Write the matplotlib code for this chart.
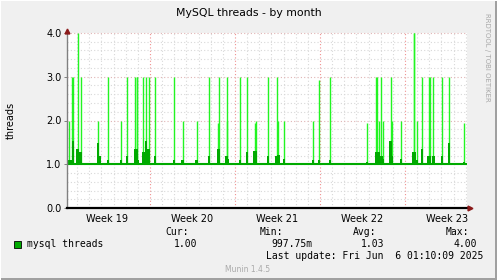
import matplotlib
matplotlib.use("Agg")
import matplotlib.pyplot as plt
import numpy as np
from matplotlib.patches import Rectangle
from matplotlib.lines import Line2D

# ---------------- data ----------------
title = "MySQL threads - by month"
ylabel = "threads"
series_name = "mysql threads"
week_labels = ["Week 19", "Week 20", "Week 21", "Week 22", "Week 23"]
week_starts = [0, 7, 14, 21, 28]          # days from start of week 19
x_range = [0.165, 33.105]                  # visible span in days
y_ticks = [0.0, 1.0, 2.0, 3.0, 4.0]
baseline = 1.0

# events over the baseline (day, peak value, averaged value)
spike_day = [0.29, 0.54, 0.66, 1.03, 1.28, 2.72, 2.84, 3.54, 4.61, 5.11,
             5.76, 5.89, 5.97, 6.46, 6.67, 6.88, 7.41, 8.98, 9.68, 10.83,
             11.86, 12.60, 12.68, 13.30, 13.38, 14.41, 14.99, 15.61, 15.69, 16.72,
             17.42, 17.58, 18.03, 20.42, 20.92, 21.82, 24.87, 25.65, 25.73, 25.82,
             26.06, 26.15, 26.81, 26.93, 27.67, 28.70, 28.78, 28.99, 29.40, 29.94,
             30.02, 30.34, 31.05, 31.62, 32.86]
spike_max = [2.0, 3.0, 3.0, 4.0, 3.0, 2.0, 1.18, 3.0, 2.0, 3.0,
             3.0, 3.0, 3.0, 3.0, 3.0, 3.0, 3.0, 3.0, 2.0, 2.0,
             3.0, 1.95, 3.0, 3.0, 2.0, 3.0, 3.0, 1.95, 2.0, 3.0,
             3.0, 2.0, 2.0, 2.0, 2.93, 3.0, 1.95, 3.0, 3.0, 2.0,
             3.0, 2.0, 3.0, 2.0, 2.0, 4.0, 4.0, 2.0, 3.0, 3.0,
             3.0, 3.0, 3.0, 3.0, 1.95]
spike_avg = [1.09, 1.09, 1.53, 1.35, 1.27, 1.49, 1.18, 1.09, 1.09, 1.18,
             1.35, 1.35, 1.09, 1.27, 1.53, 1.35, 1.18, 1.09, 1.09, 1.09,
             1.18, 1.35, 1.35, 1.18, 1.13, 1.09, 1.27, 1.31, 1.31, 1.18,
             1.18, 1.22, 1.13, 1.09, 1.09, 1.09, 1.06, 1.27, 1.27, 1.27,
             1.18, 1.13, 1.53, 1.18, 1.13, 1.27, 1.27, 1.09, 1.35, 1.18,
             1.18, 1.18, 1.18, 1.49, 1.06]

stat_names = ["Cur:", "Min:", "Avg:", "Max:"]
stat_values = ["1.00", "997.75m", "1.03", "4.00"]
last_update = "Last update: Fri Jun  6 01:10:09 2025"
footer = "Munin 1.4.5"
side_text = "RRDTOOL / TOBI OETIKER"

# ---------------- style ----------------
W, H = 497, 280
BG = "#f0f0f0"
DARK = "#00aa00"
BRIGHT = "#22f522"
MINOR = "#d8d8d8"
MAJOR_H = "#e0b4b4"
MAJOR_V = "#f09090"

fig = plt.figure(figsize=(W / 100, H / 100), dpi=100, facecolor=BG)

L, R, T, B = 67, 467, 33, 208
ax = fig.add_axes([L / W, 1 - B / H, (R - L) / W, (B - T) / H])
ax.set_facecolor("white")
ax.set_xlim(*x_range)
ax.set_ylim(y_ticks[0], y_ticks[-1])

# grid
px_day = (R - L) / (x_range[1] - x_range[0])
for d in range(int(np.ceil(x_range[0])), int(x_range[1]) + 1):
    if d in week_starts:
        ax.axvline(d, color=MAJOR_V, lw=0.8, ls=(0, (1, 2)), zorder=1)
    else:
        ax.axvline(d, color=MINOR, lw=0.8, ls=(0, (1, 2)), zorder=1)
for v in np.arange(0.2, 4.0, 0.2):
    if abs(v - round(v)) < 1e-6:
        ax.axhline(v, color=MAJOR_H, lw=0.8, ls=(0, (1, 2)), zorder=1)
    else:
        ax.axhline(v, color=MINOR, lw=0.8, ls=(0, (1, 2)), zorder=1)
ax.axhline(4.0, color=MAJOR_H, lw=0.8, ls=(0, (1, 2)), zorder=1, clip_on=False)

# data
ax.vlines(spike_day, baseline, spike_max, color=BRIGHT, lw=1.0, zorder=3)
avg = np.array(spike_avg)
ax.bar(spike_day, avg - baseline + 0.02, bottom=baseline - 0.02,
       width=2.6 / px_day, color=DARK, lw=0, zorder=4)
ax.axhline(baseline, color=DARK, lw=1.5, zorder=4)

# axes lines
for s in ax.spines.values():
    s.set_visible(False)
ax.axvline(x_range[0], color="#808080", lw=1.0, zorder=5, clip_on=False)
ax.add_line(Line2D([0, 1.008], [0, 0], transform=ax.transAxes, color="black",
                   lw=1.6, zorder=6, clip_on=False))
ax.plot([1.008], [0], marker=">", color="#8b1a1a", markersize=3.5,
        transform=ax.transAxes, clip_on=False, zorder=7)
ax.plot([0], [1.012], marker="^", color="#8b1a1a", markersize=3.5,
        transform=ax.transAxes, clip_on=False, zorder=7)

# ticks
ax.set_yticks(y_ticks)
ax.set_yticklabels([f"{v:.1f}" for v in y_ticks], fontsize=7, color="black")
ax.tick_params(axis="y", length=2, width=0.7, color="#808080", pad=2)
ax.set_xticks([w + 3.5 for w in week_starts])
ax.set_xticklabels(week_labels, fontsize=7, color="black")
ax.tick_params(axis="x", length=0, pad=4)

# texts
fig.text(249 / W, 1 - 13 / H, title, ha="center", va="center", fontsize=7.8)
fig.text(11 / W, 1 - 120 / H, ylabel, ha="center", va="center",
         rotation=90, fontsize=7)
fig.text(487 / W, 1 - 57 / H, side_text, ha="center", va="center",
         rotation=270, fontsize=5.0, color="#a8a8a8")
fig.text(248 / W, 1 - 269 / H, footer, ha="center", va="center",
         fontsize=5.5, color="#aaaaaa")

mono = "DejaVu Sans Mono"
fig.patches.append(Rectangle((14 / W, 1 - 248 / H), 7 / W, 7 / H,
                             transform=fig.transFigure, facecolor=DARK,
                             edgecolor="black", lw=0.6))
fig.text(27 / W, 1 - 244 / H, series_name, ha="left", va="center",
         family=mono, fontsize=7)
name_right = [189, 283, 376, 469]
val_right = [197, 313, 384, 477]
for n, x in zip(stat_names, name_right):
    fig.text(x / W, 1 - 232 / H, n, ha="right", va="center", family=mono, fontsize=7)
for v, x in zip(stat_values, val_right):
    fig.text(x / W, 1 - 244 / H, v, ha="right", va="center", family=mono, fontsize=7)
fig.text(483 / W, 1 - 256 / H, last_update, ha="right", va="center",
         family=mono, fontsize=7)

# 3D frame
fig.patches.append(Rectangle((0, 0), 1, 2 / H, transform=fig.transFigure,
                             facecolor="#a0a0a0", lw=0))
fig.patches.append(Rectangle((1 - 2 / W, 0), 2 / W, 1, transform=fig.transFigure,
                             facecolor="#a0a0a0", lw=0))
fig.patches.append(Rectangle((0, 1 - 1 / H), 1, 1 / H, transform=fig.transFigure,
                             facecolor="#ffffff", lw=0))
fig.patches.append(Rectangle((0, 0), 1 / W, 1, transform=fig.transFigure,
                             facecolor="#ffffff", lw=0))

fig.savefig("out.png", dpi=100, facecolor=BG)
